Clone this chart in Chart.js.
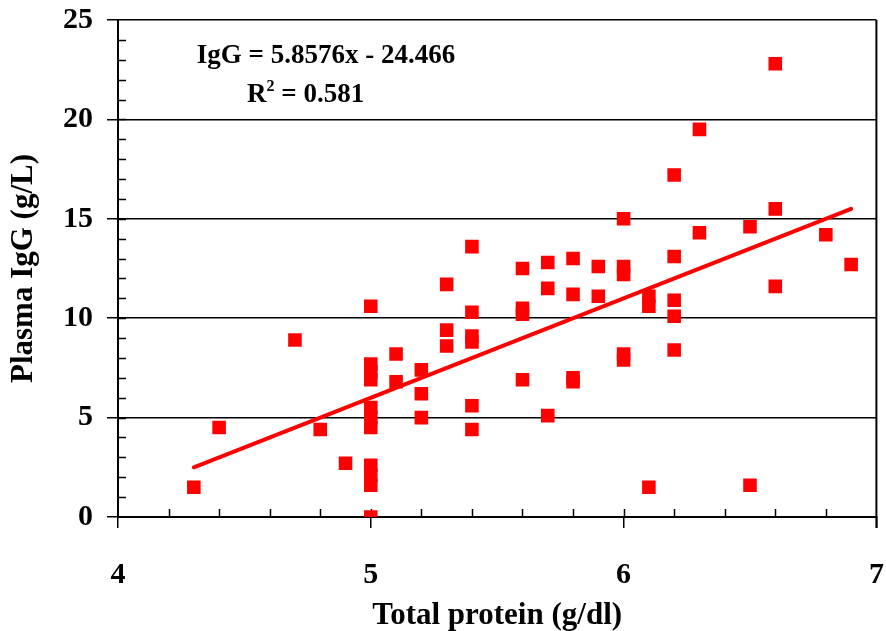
<!DOCTYPE html>
<html>
<head>
<meta charset="utf-8">
<script src="https://cdn.jsdelivr.net/npm/chart.js@4/dist/chart.umd.min.js"></script>
<style>
  html, body { margin: 0; padding: 0; background: #fff; }
  canvas { display: block; }
</style>
</head>
<body>
<canvas id="iggChart" width="886" height="631"></canvas>
<script>
// Total protein (g/dl) vs plasma IgG (g/L)
const proteinX = [
  4.3, 4.4, 4.7, 4.8, 4.9,
  5.0, 5.0, 5.0, 5.0, 5.0, 5.0, 5.0, 5.0, 5.0, 5.0, 5.0,
  5.1, 5.1,
  5.2, 5.2, 5.2,
  5.3, 5.3, 5.3,
  5.4, 5.4, 5.4, 5.4, 5.4, 5.4,
  5.6, 5.6, 5.6, 5.6,
  5.7, 5.7, 5.7,
  5.8, 5.8, 5.8, 5.8,
  5.9, 5.9,
  6.0, 6.0, 6.0, 6.0, 6.0,
  6.1, 6.1, 6.1,
  6.2, 6.2, 6.2, 6.2, 6.2,
  6.3, 6.3,
  6.5, 6.5,
  6.6, 6.6, 6.6,
  6.8, 6.9
];
const iggY = [
  1.5, 4.5, 8.9, 4.4, 2.7,
  10.6, 7.7, 7.3, 6.9, 5.5, 5.0, 4.5, 2.6, 2.1, 1.6, 0,
  8.2, 6.8,
  7.4, 6.2, 5.0,
  11.7, 9.4, 8.6,
  13.6, 10.3, 9.1, 8.8, 5.6, 4.4,
  12.5, 10.5, 10.2, 6.9,
  12.8, 11.5, 5.1,
  13.0, 11.2, 7.0, 6.8,
  12.6, 11.1,
  15.0, 12.6, 12.2, 8.2, 7.9,
  11.1, 10.6, 1.5,
  17.2, 13.1, 10.9, 10.1, 8.4,
  19.5, 14.3,
  14.6, 1.6,
  22.8, 15.5, 11.6,
  14.2, 12.7
];

// fitted line as drawn (end points)
const trendX = [4.3, 6.9];
const trendY = [2.5, 15.5];

const xMin = 4, xMax = 7, xStep = 1, xMinorStep = 0.2;
const yMin = 0, yMax = 25, yStep = 5, yMinorStep = 1;

const equationText = 'IgG = 5.8576x - 24.466';
const r2Text = ' = 0.581';

const SERIF = '"Liberation Serif", "Times New Roman", serif';

const points = proteinX.map((x, i) => ({ x: x, y: iggY[i] }));
const trend = trendX.map((x, i) => ({ x: x, y: trendY[i] }));

// inner minor ticks, right frame and the regression label
const axisExtras = {
  id: 'axisExtras',
  beforeDatasetsDraw(chart) {
    const { ctx, chartArea: a, scales: { x, y } } = chart;
    ctx.save();
    ctx.strokeStyle = '#000';
    ctx.lineWidth = 1.5;
    ctx.beginPath();
    const nx = Math.round((xMax - xMin) / xMinorStep);
    for (let i = 1; i < nx; i++) {
      const px = Math.round(x.getPixelForValue(xMin + i * xMinorStep)) + 0.5;
      ctx.moveTo(px, a.bottom);
      ctx.lineTo(px, a.bottom - 8);
    }
    const ny = Math.round((yMax - yMin) / yMinorStep);
    for (let i = 1; i < ny; i++) {
      const py = Math.round(y.getPixelForValue(yMin + i * yMinorStep)) + 0.5;
      ctx.moveTo(a.left, py);
      ctx.lineTo(a.left + 8, py);
    }
    ctx.stroke();
    ctx.lineWidth = 2;
    ctx.beginPath();
    ctx.moveTo(a.right, a.top);
    ctx.lineTo(a.right, a.bottom + 11);
    ctx.stroke();
    ctx.restore();
  },
  afterDraw(chart) {
    const { ctx, chartArea: a } = chart;
    ctx.save();
    ctx.fillStyle = '#000';
    ctx.textBaseline = 'alphabetic';
    ctx.font = 'bold 27px ' + SERIF;
    ctx.textAlign = 'center';
    ctx.fillText(equationText, a.left + 208, a.top + 43);
    ctx.textAlign = 'left';
    let cx = a.left + 129;
    ctx.fillText('R', cx, a.top + 82);
    cx += ctx.measureText('R').width;
    ctx.font = 'bold 16px ' + SERIF;
    ctx.fillText('2', cx, a.top + 71);
    cx += ctx.measureText('2').width;
    ctx.font = 'bold 27px ' + SERIF;
    ctx.fillText(r2Text, cx, a.top + 82);
    ctx.restore();
  }
};

const ctx = document.getElementById('iggChart').getContext('2d');
const iggChart = new Chart(ctx, {
  type: 'scatter',
  data: {
    datasets: [
      {
        label: 'IgG',
        data: points,
        pointStyle: 'rect',
        pointRadius: 9.6,
        pointHoverRadius: 9.6,
        backgroundColor: '#ff0000',
        borderColor: '#ff0000',
        borderWidth: 0
      },
      {
        type: 'line',
        label: 'Linear fit',
        data: trend,
        borderColor: '#ff0000',
        borderWidth: 4,
        borderCapStyle: 'round',
        pointRadius: 0,
        fill: false
      }
    ]
  },
  options: {
    responsive: false,
    animation: false,
    layout: { padding: { top: 20, right: 9, left: 0, bottom: 0 } },
    plugins: {
      legend: { display: false },
      tooltip: { enabled: false }
    },
    scales: {
      x: {
        type: 'linear',
        min: xMin,
        max: xMax,
        ticks: {
          stepSize: xStep,
          padding: 29,
          color: '#000',
          font: { family: SERIF, size: 30, weight: 'bold' }
        },
        grid: { drawOnChartArea: false, color: '#000', lineWidth: 1.5, tickLength: 11 },
        border: { color: '#000', width: 2 },
        title: {
          display: true,
          text: 'Total protein (g/dl)',
          color: '#000',
          padding: 0,
          font: { family: SERIF, size: 31, weight: 'bold', lineHeight: 1 }
        },
        afterFit(s) {
          s.height = 114;
          s.paddingLeft = 0;
          s.paddingRight = 0;
        }
      },
      y: {
        type: 'linear',
        min: yMin,
        max: yMax,
        ticks: {
          stepSize: yStep,
          padding: 14,
          color: '#000',
          font: { family: SERIF, size: 30, weight: 'bold' }
        },
        grid: { color: '#000', lineWidth: 1.5, tickLength: 11 },
        border: { color: '#000', width: 2 },
        title: {
          display: true,
          text: 'Plasma IgG (g/L)',
          color: '#000',
          padding: { top: 8, bottom: 0 },
          font: { family: SERIF, size: 31, weight: 'bold', lineHeight: 1 }
        },
        afterFit(s) {
          s.width = 118;
          s.paddingTop = 0;
          s.paddingBottom = 0;
        }
      }
    }
  },
  plugins: [axisExtras]
});
</script>
</body>
</html>
